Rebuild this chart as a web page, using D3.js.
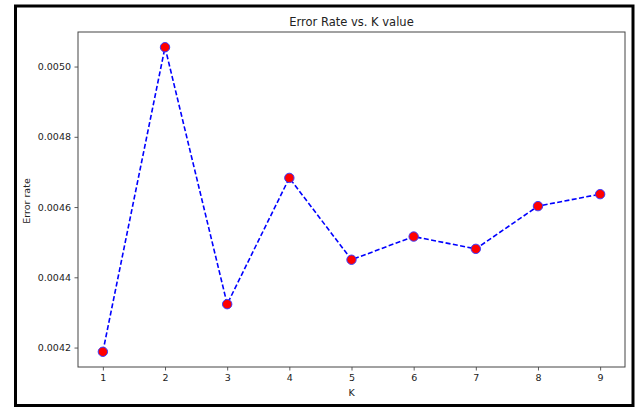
<!DOCTYPE html>
<html>
<head>
<meta charset="utf-8">
<script src="https://cdn.jsdelivr.net/npm/d3@7"></script>
<style>
  html, body { margin: 0; padding: 0; background: #fff; }
  svg { display: block; font-family: "DejaVu Sans", sans-serif; }
</style>
</head>
<body>
<svg width="640" height="407"></svg>
<script>
const kValues = [1, 2, 3, 4, 5, 6, 7, 8, 9];
const errorRates = [0.004188, 0.005055, 0.0043235, 0.004683, 0.00445, 0.004516, 0.004481, 0.0046026, 0.0046367];
const yTicks = [0.0042, 0.0044, 0.0046, 0.0048, 0.0050];

const svg = d3.select("svg");
const width = +svg.attr("width");
const height = +svg.attr("height");

// outer frame around the figure
svg.append("rect")
    .attr("x", 15.5).attr("y", 6)
    .attr("width", 617.5).attr("height", 399.5)
    .attr("fill", "#fff")
    .attr("stroke", "#000")
    .attr("stroke-width", 3);

const box = { left: 78, top: 32, right: 625, bottom: 367 };

// matplotlib-like 5% margins
const xPad = (d3.max(kValues) - d3.min(kValues)) * 0.05;
const yMin = d3.min(errorRates), yMax = d3.max(errorRates);
const yPad = (yMax - yMin) * 0.05;

const x = d3.scaleLinear()
    .domain([d3.min(kValues) - xPad, d3.max(kValues) + xPad])
    .range([box.left, box.right]);
const y = d3.scaleLinear()
    .domain([yMin - yPad, yMax + yPad])
    .range([box.bottom, box.top]);

const xAxis = svg.append("g")
    .attr("transform", `translate(0,${box.bottom})`)
    .call(d3.axisBottom(x).tickValues(kValues).tickFormat(d3.format("d")).tickSize(3.5).tickPadding(3.5));
const yAxis = svg.append("g")
    .attr("transform", `translate(${box.left},0)`)
    .call(d3.axisLeft(y).tickValues(yTicks).tickFormat(d3.format(".4f")).tickSize(3.5).tickPadding(3.5));

[xAxis, yAxis].forEach(g => {
    g.select(".domain").remove();
    g.selectAll("line").attr("stroke", "#333").attr("stroke-width", 0.8);
    g.selectAll("text").attr("fill", "#222").style("font-size", "9.5px").style("font-family", "DejaVu Sans, sans-serif");
});

// spines
svg.append("rect")
    .attr("x", box.left).attr("y", box.top)
    .attr("width", box.right - box.left).attr("height", box.bottom - box.top)
    .attr("fill", "none")
    .attr("stroke", "#444")
    .attr("stroke-width", 1);

const line = d3.line()
    .x((d, i) => x(kValues[i]))
    .y(d => y(d));

svg.append("path")
    .datum(errorRates)
    .attr("d", line)
    .attr("fill", "none")
    .attr("stroke", "blue")
    .attr("stroke-width", 1.6)
    .attr("stroke-dasharray", "5,2.4");

svg.selectAll(".pt")
    .data(errorRates)
    .join("circle")
    .attr("class", "pt")
    .attr("cx", (d, i) => x(kValues[i]))
    .attr("cy", d => y(d))
    .attr("r", 4.7)
    .attr("fill", "red")
    .attr("stroke", "#3b3bff")
    .attr("stroke-width", 1);

svg.append("text")
    .attr("x", (box.left + box.right) / 2)
    .attr("y", 25.5)
    .attr("text-anchor", "middle")
    .style("font-size", "11.5px")
    .attr("fill", "#222")
    .text("Error Rate vs. K value");

svg.append("text")
    .attr("x", (box.left + box.right) / 2)
    .attr("y", 396)
    .attr("text-anchor", "middle")
    .style("font-size", "9.5px")
    .attr("fill", "#222")
    .text("K");

svg.append("text")
    .attr("transform", `translate(30,${(box.top + box.bottom) / 2 + 1.5}) rotate(-90)`)
    .attr("text-anchor", "middle")
    .style("font-size", "9.5px")
    .attr("fill", "#222")
    .text("Error rate");
</script>
</body>
</html>
